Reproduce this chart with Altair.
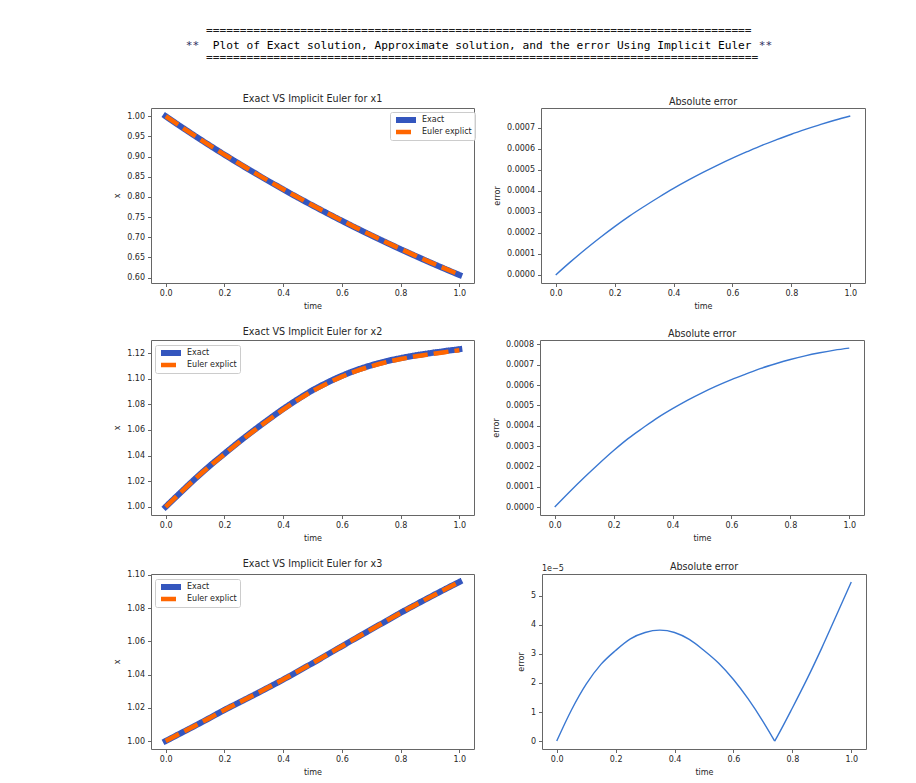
import altair as alt
import pandas as pd

# ---------------- data ----------------
T = [0.00, 0.05, 0.10, 0.15, 0.20, 0.25, 0.30, 0.35, 0.40, 0.45, 0.50,
     0.55, 0.60, 0.65, 0.70, 0.75, 0.80, 0.85, 0.90, 0.95, 1.00]

X1_EXACT = [1.0000, 0.9753, 0.9512, 0.9277, 0.9048, 0.8825, 0.8607, 0.8395, 0.8187, 0.7985, 0.7788,
            0.7596, 0.7408, 0.7225, 0.7047, 0.6873, 0.6703, 0.6538, 0.6376, 0.6219, 0.6065]
X1_EULER = [1.0000, 0.9754, 0.9513, 0.9279, 0.9050, 0.8828, 0.8610, 0.8399, 0.8191, 0.7990, 0.7793,
            0.7601, 0.7414, 0.7231, 0.7053, 0.6879, 0.6710, 0.6545, 0.6383, 0.6226, 0.6073]

X2_EXACT = [1.0000, 1.0110, 1.0218, 1.0320, 1.0415, 1.0508, 1.0597, 1.0682, 1.0764, 1.0840, 1.0910,
            1.0970, 1.1023, 1.1068, 1.1105, 1.1136, 1.1161, 1.1182, 1.1200, 1.1216, 1.1231]
X2_EULER = [1.0000, 1.0109, 1.0217, 1.0318, 1.0412, 1.0505, 1.0593, 1.0678, 1.0759, 1.0835, 1.0904,
            1.0964, 1.1017, 1.1061, 1.1098, 1.1129, 1.1154, 1.1175, 1.1192, 1.1208, 1.1223]

X3_EXACT = [1.0000, 1.0046, 1.0092, 1.0139, 1.0187, 1.0232, 1.0277, 1.0323, 1.0370, 1.0419, 1.0469,
            1.0520, 1.0571, 1.0622, 1.0672, 1.0722, 1.0772, 1.0820, 1.0867, 1.0913, 1.0958]
X3_EULER = [1.00000, 1.00461, 1.00922, 1.01393, 1.01873, 1.02323, 1.02774, 1.03234, 1.03704, 1.04194, 1.04693,
            1.05203, 1.05712, 1.06222, 1.06721, 1.07220, 1.07719, 1.08198, 1.08667, 1.09126, 1.09575]

ERR1 = [0.0, 0.000062, 0.000121, 0.000177, 0.000230, 0.000280, 0.000326, 0.000370, 0.000412, 0.000451, 0.000488,
        0.000523, 0.000556, 0.000587, 0.000617, 0.000644, 0.000670, 0.000694, 0.000717, 0.000738, 0.000757]
ERR2 = [0.0, 0.000074, 0.000145, 0.000213, 0.000278, 0.000338, 0.000390, 0.000440, 0.000484, 0.000525, 0.000562,
        0.000596, 0.000627, 0.000655, 0.000682, 0.000705, 0.000726, 0.000744, 0.000759, 0.000772, 0.000782]

# third error curve: two branches meeting at the sharp minimum near t = 0.74
T_ERR3_A = [0.00, 0.05, 0.10, 0.15, 0.20, 0.25, 0.30, 0.35, 0.40, 0.45, 0.50,
            0.55, 0.60, 0.65, 0.70, 0.74]
ERR3_A = [0.0, 1.07e-5, 1.96e-5, 2.64e-5, 3.12e-5, 3.52e-5, 3.74e-5, 3.82e-5, 3.74e-5, 3.50e-5, 3.12e-5,
          2.68e-5, 2.12e-5, 1.45e-5, 0.68e-5, 0.0]
T_ERR3_B = [0.74, 0.75, 0.80, 0.85, 0.90, 0.95, 1.00]
ERR3_B = [0.0, 0.18e-5, 1.14e-5, 2.14e-5, 3.21e-5, 4.34e-5, 5.48e-5]

X_TICKS = [0.0, 0.2, 0.4, 0.6, 0.8, 1.0]
X1_TICKS = [0.60, 0.65, 0.70, 0.75, 0.80, 0.85, 0.90, 0.95, 1.00]
X2_TICKS = [1.00, 1.02, 1.04, 1.06, 1.08, 1.10, 1.12]
X3_TICKS = [1.00, 1.02, 1.04, 1.06, 1.08, 1.10]
E1_TICKS = [0.0, 0.0001, 0.0002, 0.0003, 0.0004, 0.0005, 0.0006, 0.0007]
E2_TICKS = [0.0, 0.0001, 0.0002, 0.0003, 0.0004, 0.0005, 0.0006, 0.0007, 0.0008]
E3_TICKS = [0.0, 1e-5, 2e-5, 3e-5, 4e-5, 5e-5]

SERIES = ["Exact", "Euler explict"]
PANEL_TITLES = ["Exact VS Implicit Euler for x1", "Exact VS Implicit Euler for x2",
                "Exact VS Implicit Euler for x3"]
ERROR_TITLE = "Absolute error"

HEADER_RULE_1 = "=" * 81
HEADER_STARS = "**"
HEADER_TEXT = "Plot of Exact solution, Approximate solution, and the error Using Implicit Euler"
HEADER_RULE_2 = "=" * 82

# ---------------- styles ----------------
FONT = "DejaVu Sans"
MONO = "DejaVu Sans Mono"
BLUE = "#3456be"
ORANGE = "#ff6600"
ERR_BLUE = "#3a78d2"
TXT = "#262626"
XDOM = [-0.05, 1.05]
W_L, W_R, H = 323, 324, 175
PAD_L = 113
CW = 6.74  # monospace char width at 11.2px


def title_params(text, dy):
    return alt.TitleParams(text, fontWeight="normal", fontSize=9.6, font=FONT, color=TXT,
                           offset=4, frame="group", dy=dy)


def x_enc():
    return alt.X("t:Q", scale=alt.Scale(domain=XDOM, nice=False, zero=False),
                 axis=alt.Axis(values=X_TICKS, format=".1f", title="time", grid=False,
                               titleFontWeight="normal"))


def solution_panel(exact, euler, title, ydom, yticks, lx, ly):
    df = pd.DataFrame({
        "t": T + T,
        "value": exact + euler,
        "series": [SERIES[0]] * len(T) + [SERIES[1]] * len(T),
    })
    leg = alt.Legend(title=None, orient="none", legendX=lx, legendY=ly, padding=3, rowPadding=2,
                     clipHeight=10, symbolSize=400, symbolType="stroke", labelOffset=3,
                     labelFontSize=8, labelFont=FONT, labelColor=TXT,
                     strokeColor="#cccccc", fillColor="rgba(255,255,255,0.85)", cornerRadius=2)
    base = alt.Chart(df).encode(
        x=x_enc(),
        y=alt.Y("value:Q", scale=alt.Scale(domain=ydom, nice=False, zero=False),
                axis=alt.Axis(values=yticks, format=".2f", title="x", grid=False,
                              titleFontWeight="normal")),
        color=alt.Color("series:N", scale=alt.Scale(domain=SERIES, range=[BLUE, ORANGE]), legend=leg),
        strokeDash=alt.StrokeDash("series:N", scale=alt.Scale(domain=SERIES, range=[[1, 0], [15, 6]]), legend=leg),
        strokeWidth=alt.StrokeWidth("series:N", scale=alt.Scale(domain=SERIES, range=[6, 4.5]), legend=leg),
    )
    l1 = base.transform_filter(alt.datum.series == SERIES[0]).mark_line(strokeCap="square", interpolate="monotone")
    l2 = base.transform_filter(alt.datum.series == SERIES[1]).mark_line(strokeCap="butt", interpolate="monotone")
    return alt.layer(l1, l2).properties(width=W_L, height=H, title=title_params(title, 3))


def error_panel(df, ydom, yticks, label_expr=None, offset_text=None):
    if label_expr:
        yaxis = alt.Axis(values=yticks, labelExpr=label_expr, title="error", grid=False, titleFontWeight="normal")
    else:
        yaxis = alt.Axis(values=yticks, format=".4f", title="error", grid=False, titleFontWeight="normal")
    line = alt.Chart(df).mark_line(color=ERR_BLUE, strokeWidth=1.4, interpolate="monotone").encode(
        x=x_enc(),
        y=alt.Y("error:Q", scale=alt.Scale(domain=ydom, nice=False, zero=False), axis=yaxis),
        detail="branch:N",
    )
    layers = [line]
    title_dy = 3
    if offset_text:
        title_dy = 11
        layers.append(
            alt.Chart(alt.Data(values=[{}])).mark_text(
                text=offset_text, align="left", baseline="bottom", font=FONT, fontSize=8, color=TXT
            ).encode(x=alt.value(0), y=alt.value(-1))
        )
    return alt.layer(*layers).properties(width=W_R, height=H, title=title_params(ERROR_TITLE, title_dy))


def header_text(txt, x, y, color):
    return alt.Chart(alt.Data(values=[{}])).mark_text(
        text=txt, align="left", baseline="alphabetic", font=MONO, fontSize=11.2, color=color
    ).encode(x=alt.value(x), y=alt.value(y))


x0 = 185.8 - 151
header = alt.layer(
    header_text(HEADER_RULE_1, x0 + 3 * CW, 32.5, "#1a1a1a"),
    header_text(HEADER_STARS, x0, 47.5, "#2c2c5e"),
    header_text(HEADER_TEXT, x0 + 4 * CW, 47.5, "#000000"),
    header_text(HEADER_STARS, x0 + 85 * CW, 47.5, "#2c2c5e"),
    header_text(HEADER_RULE_2, x0 + 3 * CW, 59.8, "#1a1a1a"),
).properties(width=700, height=76, view=alt.ViewBackground(stroke="transparent"))

p1 = solution_panel(X1_EXACT, X1_EULER, PANEL_TITLES[0], [0.5865, 1.0205], X1_TICKS, 239, 4)
p2 = solution_panel(X2_EXACT, X2_EULER, PANEL_TITLES[1], [0.9936, 1.1303], X2_TICKS, 4, 5)
p3 = solution_panel(X3_EXACT, X3_EULER, PANEL_TITLES[2], [0.9952, 1.1006], X3_TICKS, 4, 5)

df_e1 = pd.DataFrame({"t": T, "error": ERR1, "branch": "a"})
df_e2 = pd.DataFrame({"t": T, "error": ERR2, "branch": "a"})
df_e3 = pd.concat([
    pd.DataFrame({"t": T_ERR3_A, "error": ERR3_A, "branch": "a"}),
    pd.DataFrame({"t": T_ERR3_B, "error": ERR3_B, "branch": "b"}),
], ignore_index=True)

e1 = error_panel(df_e1, [-0.0000385, 0.000795], E1_TICKS)
e2 = error_panel(df_e2, [-0.0000392, 0.000822], E2_TICKS)
e3 = error_panel(df_e3, [-0.274e-5, 5.754e-5], E3_TICKS,
                 label_expr="format(datum.value * 100000, '.0f')", offset_text="1e\u22125")


def row(a, b, sp):
    return alt.hconcat(a, b, spacing=sp).resolve_scale(
        color="independent", strokeDash="independent", strokeWidth="independent"
    ).resolve_legend(color="independent", strokeDash="independent", strokeWidth="independent")


row1 = row(p1, e1, 17)
row2 = row(p2, e2, 17)
row3 = row(p3, e3, 41)

chart = alt.vconcat(header, row1, row2, row3, spacing=15).resolve_scale(
    color="independent", strokeDash="independent", strokeWidth="independent"
).resolve_legend(
    color="independent", strokeDash="independent", strokeWidth="independent"
).properties(
    padding={"left": PAD_L, "top": 0, "right": 0, "bottom": 0},
    background="white",
).configure_view(
    stroke="#666666", strokeWidth=1
).configure_axis(
    domain=False, grid=False, tickColor="#666666", tickSize=3.5, tickWidth=1,
    labelFont=FONT, labelFontSize=8, labelColor=TXT, labelPadding=3, labelFlush=False,
    titleFont=FONT, titleFontSize=8, titleFontWeight="normal", titleColor=TXT, titlePadding=5,
).configure_title(
    font=FONT, fontSize=9.6, fontWeight="normal", color=TXT, offset=4
)

chart.save("out.html", embed_options={"renderer": "svg", "actions": False})
